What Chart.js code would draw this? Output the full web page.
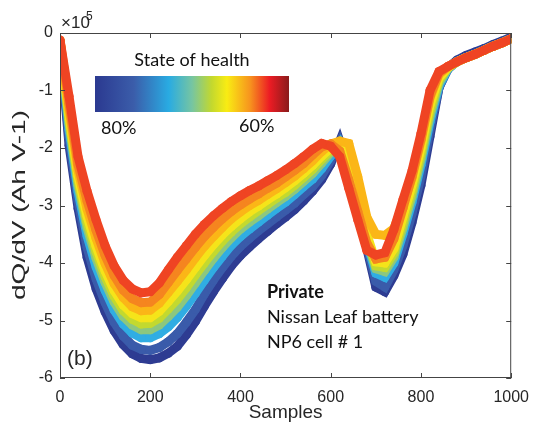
<!DOCTYPE html>
<html>
<head>
<meta charset="utf-8">
<script src="https://cdn.jsdelivr.net/npm/chart.js"></script>
<style>
  body { margin: 0; background: #fff; }
</style>
</head>
<body>
<canvas id="dqdvChart" width="539" height="438"></canvas>
<script>
// sample index along the x axis
const samples = [0, 20, 40, 60, 80, 100, 120, 140, 160, 180, 200, 220, 240, 260, 280, 300, 320, 340, 360, 380,
    400, 420, 440, 460, 480, 500, 520, 540, 560, 580, 600, 620, 640, 660, 680, 700, 720, 740, 760, 780,
    800, 820, 840, 860, 880, 900, 920, 940, 960, 980, 1000];

// dQ/dV curves (x 1e5 Ah V-1), from 60% (red) to 80% (dark blue) state of health
const soh60 = [-0.12, -1.1, -2.15, -2.75, -3.25, -3.7, -4.05, -4.3, -4.45, -4.52, -4.5, -4.35, -4.12, -3.9, -3.7, -3.5, -3.33, -3.18, -3.05, -2.93,
    -2.83, -2.74, -2.66, -2.57, -2.48, -2.38, -2.27, -2.15, -2.02, -1.92, -1.97, -2.15, -2.7, -3.25, -3.78, -3.86, -3.82, -3.42, -2.9, -2.4,
    -1.75, -1.0, -0.67, -0.58, -0.5, -0.43, -0.37, -0.3, -0.23, -0.17, -0.1];
const soh62 = [-0.12, -1.23, -2.29, -2.92, -3.43, -3.87, -4.22, -4.47, -4.62, -4.69, -4.68, -4.55, -4.34, -4.13, -3.93, -3.73, -3.54, -3.38, -3.23, -3.1,
    -2.99, -2.89, -2.8, -2.7, -2.61, -2.5, -2.39, -2.27, -2.12, -1.98, -1.93, -2.05, -2.55, -3.1, -3.65, -3.93, -3.9, -3.58, -3.05, -2.5,
    -1.85, -1.1, -0.7, -0.58, -0.5, -0.43, -0.37, -0.3, -0.23, -0.17, -0.1];
const soh65 = [-0.13, -1.33, -2.39, -3.06, -3.57, -4.01, -4.36, -4.6, -4.76, -4.83, -4.82, -4.7, -4.51, -4.32, -4.12, -3.91, -3.71, -3.54, -3.38, -3.23,
    -3.11, -3.0, -2.91, -2.81, -2.71, -2.6, -2.49, -2.36, -2.22, -2.06, -1.93, -1.88, -1.92, -2.5, -3.2, -3.5, -3.52, -3.4, -3.0, -2.52,
    -1.88, -1.13, -0.72, -0.59, -0.5, -0.43, -0.37, -0.3, -0.23, -0.17, -0.1];
const soh67 = [-0.13, -1.42, -2.49, -3.19, -3.71, -4.14, -4.48, -4.73, -4.88, -4.95, -4.95, -4.84, -4.67, -4.49, -4.29, -4.08, -3.87, -3.68, -3.51, -3.36,
    -3.23, -3.11, -3.01, -2.9, -2.8, -2.69, -2.57, -2.44, -2.3, -2.14, -2.0, -1.93, -2.2, -2.8, -3.5, -3.98, -4.0, -3.75, -3.2, -2.65,
    -2.0, -1.25, -0.78, -0.6, -0.5, -0.43, -0.37, -0.3, -0.23, -0.17, -0.1];
const soh69 = [-0.13, -1.5, -2.57, -3.29, -3.81, -4.24, -4.58, -4.83, -4.98, -5.06, -5.05, -4.96, -4.8, -4.63, -4.43, -4.21, -4.0, -3.8, -3.62, -3.46,
    -3.32, -3.2, -3.09, -2.98, -2.87, -2.77, -2.65, -2.51, -2.37, -2.2, -2.04, -1.93, -2.25, -2.88, -3.55, -4.05, -4.08, -3.83, -3.3, -2.75,
    -2.1, -1.35, -0.82, -0.6, -0.5, -0.43, -0.37, -0.3, -0.23, -0.17, -0.1];
const soh71 = [-0.14, -1.58, -2.65, -3.39, -3.92, -4.34, -4.68, -4.93, -5.08, -5.16, -5.16, -5.08, -4.93, -4.77, -4.57, -4.35, -4.13, -3.92, -3.73, -3.56,
    -3.41, -3.29, -3.18, -3.06, -2.95, -2.84, -2.72, -2.58, -2.44, -2.26, -2.08, -1.93, -2.28, -2.92, -3.6, -4.1, -4.15, -3.9, -3.4, -2.85,
    -2.2, -1.45, -0.87, -0.61, -0.5, -0.43, -0.37, -0.3, -0.23, -0.17, -0.1];
const soh74 = [-0.14, -1.68, -2.76, -3.53, -4.07, -4.48, -4.82, -5.06, -5.22, -5.3, -5.3, -5.23, -5.11, -4.95, -4.75, -4.53, -4.3, -4.08, -3.88, -3.69,
    -3.54, -3.41, -3.29, -3.17, -3.05, -2.94, -2.81, -2.67, -2.54, -2.36, -2.14, -1.92, -2.3, -2.95, -3.65, -4.18, -4.25, -4.0, -3.5, -2.95,
    -2.3, -1.55, -0.92, -0.62, -0.5, -0.43, -0.37, -0.3, -0.23, -0.17, -0.1];
const soh77 = [-0.15, -1.82, -2.92, -3.73, -4.28, -4.69, -5.03, -5.27, -5.43, -5.5, -5.52, -5.47, -5.37, -5.23, -5.03, -4.81, -4.54, -4.3, -4.08, -3.88,
    -3.71, -3.57, -3.44, -3.32, -3.2, -3.08, -2.96, -2.81, -2.67, -2.48, -2.22, -1.9, -2.32, -2.98, -3.7, -4.32, -4.42, -4.12, -3.7, -3.15,
    -2.5, -1.68, -0.95, -0.63, -0.49, -0.42, -0.36, -0.29, -0.22, -0.16, -0.09];
const soh80 = [-0.15, -1.95, -3.05, -3.9, -4.45, -4.85, -5.18, -5.42, -5.58, -5.66, -5.68, -5.65, -5.57, -5.45, -5.25, -5.02, -4.75, -4.5, -4.27, -4.05,
    -3.87, -3.72, -3.58, -3.45, -3.32, -3.2, -3.07, -2.92, -2.75, -2.55, -2.28, -1.88, -2.35, -3.0, -3.75, -4.42, -4.5, -4.22, -3.85, -3.3,
    -2.65, -1.8, -0.95, -0.6, -0.47, -0.39, -0.33, -0.27, -0.2, -0.14, -0.07];

const xTicks = [0, 200, 400, 600, 800, 1000];
const yTicks = [0, -1, -2, -3, -4, -5, -6];
const colorbarLabels = ['80%', '60%'];

// first dataset is drawn on top
const curves = [
    { values: soh60, color: '#EF4423' },
    { values: soh62, color: '#F5851F' },
    { values: soh65, color: '#FBB617' },
    { values: soh67, color: '#F5E41A' },
    { values: soh69, color: '#C3D92F' },
    { values: soh71, color: '#8CC77F' },
    { values: soh74, color: '#30ADE3' },
    { values: soh77, color: '#3A5BAA' },
    { values: soh80, color: '#2E3C92' }
];

const tickFont = { family: 'Liberation Sans, Arial, sans-serif', size: 16 };

// frame, inward ticks, colour bar and annotations
const decorations = {
    id: 'decorations',
    afterDraw(chart) {
        const { ctx, chartArea: a, scales } = chart;
        ctx.save();
        ctx.strokeStyle = '#444';
        ctx.lineWidth = 1;
        ctx.strokeRect(a.left + 0.5, a.top + 0.5, a.right - a.left - 1, a.bottom - a.top - 1);
        ctx.beginPath();
        xTicks.forEach(v => {
            const px = Math.round(scales.x.getPixelForValue(v)) + 0.5;
            ctx.moveTo(px, a.bottom); ctx.lineTo(px, a.bottom - 5);
            ctx.moveTo(px, a.top); ctx.lineTo(px, a.top + 5);
        });
        yTicks.forEach(v => {
            const py = Math.round(scales.y.getPixelForValue(v)) + 0.5;
            ctx.moveTo(a.left, py); ctx.lineTo(a.left + 5, py);
            ctx.moveTo(a.right, py); ctx.lineTo(a.right - 5, py);
        });
        ctx.stroke();

        // exponent
        ctx.fillStyle = '#262626';
        ctx.textBaseline = 'alphabetic';
        ctx.textAlign = 'left';
        ctx.font = '17px Liberation Sans, Arial, sans-serif';
        ctx.fillText('\u00d710', 61, 28);
        ctx.font = '12px Liberation Sans, Arial, sans-serif';
        ctx.fillText('5', 86, 20);

        // axis titles
        ctx.font = '19px Liberation Sans, Arial, sans-serif';
        ctx.textAlign = 'center';
        ctx.fillText('Samples', (a.left + a.right) / 2, 418);
        ctx.save();
        ctx.translate(25, 205);
        ctx.rotate(-Math.PI / 2);
        const yTitle = 'dQ/dV (Ah V-1)';
        const w = ctx.measureText(yTitle).width;
        ctx.scale(190 / w, 1);
        ctx.fillText(yTitle, 0, 0);
        ctx.restore();

        // (b)
        ctx.textAlign = 'left';
        ctx.font = '21px Liberation Sans, Arial, sans-serif';
        ctx.fillText('(b)', 67, 365);

        // colour bar
        const cb = { x: 95, y: 76, w: 194, h: 36 };
        const g = ctx.createLinearGradient(cb.x, 0, cb.x + cb.w, 0);
        g.addColorStop(0, '#2B3990');
        g.addColorStop(0.2, '#3B5DAA');
        g.addColorStop(0.38, '#29ABE2');
        g.addColorStop(0.5, '#76C5A2');
        g.addColorStop(0.6, '#C2D82F');
        g.addColorStop(0.68, '#F9EC13');
        g.addColorStop(0.8, '#F7931E');
        g.addColorStop(0.9, '#EC1C24');
        g.addColorStop(1, '#8A1B1B');
        ctx.fillStyle = g;
        ctx.fillRect(cb.x, cb.y, cb.w, cb.h);

        ctx.fillStyle = '#111';
        ctx.font = '18px Lato, sans-serif';
        ctx.textAlign = 'center';
        ctx.fillText('State of health', 192, 66);
        ctx.textAlign = 'left';
        ctx.fillText(colorbarLabels[0], 101, 134);
        ctx.fillText(colorbarLabels[1], 239, 132);

        // annotation
        ctx.font = 'bold 18px Lato, sans-serif';
        ctx.fillText('Private', 267, 298);
        ctx.font = '18px Lato, sans-serif';
        ctx.fillText('Nissan Leaf battery', 267, 323);
        ctx.fillText('NP6 cell # 1', 267, 348);
        ctx.restore();
    }
};

function createChart() {
    const ctx = document.getElementById('dqdvChart').getContext('2d');
    new Chart(ctx, {
        type: 'line',
        data: {
            datasets: curves.map(c => ({
                data: samples.map((s, i) => ({ x: s, y: c.values[i] })),
                borderColor: c.color,
                backgroundColor: c.color,
                borderWidth: 9,
                pointRadius: 4.5,
                pointBorderWidth: 0,
                tension: 0,
                fill: false
            }))
        },
        options: {
            responsive: false,
            animation: false,
            layout: { padding: { top: 33, right: 23, left: 0, bottom: 0 } },
            plugins: {
                legend: { display: false },
                tooltip: { enabled: false }
            },
            scales: {
                x: {
                    type: 'linear',
                    min: 0,
                    max: 1000,
                    grid: { display: false, drawTicks: false },
                    border: { display: false },
                    ticks: { stepSize: 200, font: tickFont, color: '#262626', padding: 10, maxRotation: 0,
                        callback: v => String(v) },
                    afterFit: s => { s.height = 60; }
                },
                y: {
                    min: -6,
                    max: 0,
                    grid: { display: false, drawTicks: false },
                    border: { display: false },
                    ticks: { stepSize: 1, font: tickFont, color: '#262626', padding: 7 },
                    afterFit: s => { s.width = 60; }
                }
            }
        },
        plugins: [decorations]
    });
}

window.onload = createChart;
</script>
</body>
</html>
